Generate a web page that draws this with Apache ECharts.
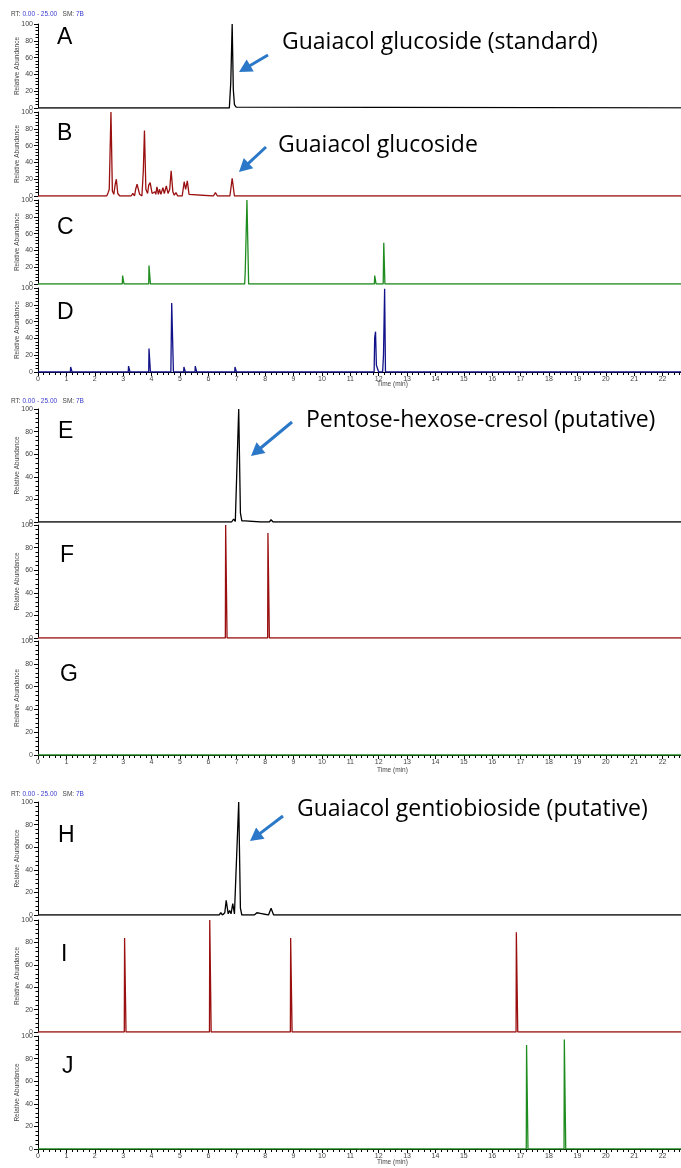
<!DOCTYPE html>
<html><head><meta charset="utf-8">
<script src="https://cdn.jsdelivr.net/npm/echarts@6/dist/echarts.min.js"></script>
<style>html,body{margin:0;padding:0;background:#fff}#c{width:681px;height:1168px}</style>
</head><body><div id="c"></div>
<script>
// ---- data (retention time in min, relative abundance %) ----
const xTicks = [0,1,2,3,4,5,6,7,8,9,10,11,12,13,14,15,16,17,18,19,20,21,22];
const yTicks = [0,20,40,60,80,100];
const panelLetters = ['A','B','C','D','E','F','G','H','I','J'];
const annotationTexts = ['Guaiacol glucoside (standard)','Guaiacol glucoside','Pentose-hexose-cresol (putative)','Guaiacol gentiobioside (putative)'];

const traceA = [[0,0],[6.74,0],[6.79,30],[6.84,100],[6.88,22],[6.92,4],[6.98,1],[7.04,0],[25,0]];
const traceB = [[0,0],[2.42,0],[2.47,4],[2.51,8],[2.57,100],[2.62,6],[2.67,2],[2.72,14],[2.76,20],[2.81,3],[2.88,0],[3.28,0],[3.34,3],[3.40,0],[3.44,8],[3.49,14],[3.53,13],[3.58,2],[3.66,0],[3.71,30],[3.75,78],[3.80,8],[3.86,3],[3.90,13],[3.95,16],[4.02,3],[4.08,1],[4.12,5],[4.15,2],[4.19,11],[4.24,2],[4.28,8],[4.33,2],[4.40,10],[4.45,3],[4.52,12],[4.58,3],[4.64,8],[4.69,30],[4.75,5],[4.80,1],[4.86,4],[4.92,0],[5.08,0],[5.15,17],[5.20,8],[5.26,18],[5.32,2],[5.38,0],[6.18,0],[6.25,4],[6.32,0],[6.76,0],[6.84,21],[6.92,0],[25,0]];
const traceC = [[0,0],[2.97,0],[2.98,10],[3.02,10],[3.03,0],[3.90,0],[3.91,22],[3.95,21],[3.96,0],[7.28,0],[7.30,15],[7.34,15],[7.36,100],[7.40,100],[7.42,0],[11.85,0],[11.86,10],[11.90,10],[11.91,0],[12.16,0],[12.18,49],[12.21,49],[12.22,0],[25,0]];
const traceD = [[0,0],[1.14,0],[1.15,6],[1.19,6],[1.20,0],[3.18,0],[3.19,7],[3.23,7],[3.24,0],[3.90,0],[3.91,28],[3.95,28],[3.96,0],[4.68,0],[4.71,82],[4.74,82],[4.77,0],[5.13,0],[5.14,6],[5.18,6],[5.19,0],[5.53,0],[5.54,7],[5.58,7],[5.59,0],[6.93,0],[6.94,6],[6.98,6],[6.99,0],[11.84,0],[11.86,41],[11.89,48],[11.92,8],[11.95,7],[11.98,7],[12.00,0],[12.14,0],[12.17,20],[12.21,99],[12.24,0],[25,0]];
const traceE = [[0,0],[6.58,0],[6.63,1],[6.68,0],[6.82,0],[6.89,2.5],[6.95,0.5],[7.01,1],[7.07,100],[7.13,8],[7.18,1],[7.25,0],[7.30,1],[7.36,0],[7.85,0],[7.90,0.5],[7.95,0],[8.15,0],[8.21,2],[8.28,0],[25,0]];
const traceF = [[0,0],[6.60,0],[6.61,100],[6.65,100],[6.66,0],[8.09,0],[8.10,93],[8.14,93],[8.15,0],[25,0]];
const traceG = [[0,0],[25,0]];
const traceH = [[0,0],[6.38,0],[6.44,2],[6.50,0],[6.58,2],[6.63,13],[6.70,1],[6.75,4],[6.80,1],[6.86,10],[6.92,1],[6.98,2],[7.07,100],[7.13,6],[7.18,0],[7.26,0],[7.30,1.5],[7.36,0],[7.62,0],[7.67,1],[7.71,2],[7.76,1],[7.83,1.5],[7.90,0],[8.12,0],[8.21,6],[8.30,0],[25,0]];
const traceI = [[0,0],[3.04,0],[3.05,84],[3.09,84],[3.10,0],[6.04,0],[6.05,100],[6.09,100],[6.10,0],[8.89,0],[8.90,84],[8.94,84],[8.95,0],[16.84,0],[16.85,89],[16.89,89],[16.90,0],[25,0]];
const traceJ = [[0,0],[17.20,0],[17.21,92],[17.25,92],[17.26,0],[18.53,0],[18.54,97],[18.58,97],[18.59,0],[25,0]];
const traces = [traceA,traceB,traceC,traceD,traceE,traceF,traceG,traceH,traceI,traceJ];

// ---- layout / style ----
const colors = ['#000000','#9a1010','#1f8c1f','#12128a','#000000','#9a1010','#1f8c1f','#000000','#9a1010','#1f8c1f'];
const grids = [[24,84],[112,84],[200,84],[288,84],[409,113],[525,113],[641,114],[802,113],[920,112],[1036,113]];
const bottomPanels = [3,6,9];
const headerY = [15,402,795];
const timeLabelY = [385,771,1163];
const letterPos = [[57,38],[57,134],[57,228],[57,313],[58,432],[60,556],[60,675],[58,836],[61,955],[62,1067]];
const annots = [
  {panel:0, x:282, y:47, tail:[268,55], tip:[239,72]},
  {panel:1, x:278, y:150, tail:[266,147], tip:[239,172]},
  {panel:4, x:306, y:425, tail:[292,422], tip:[251,456]},
  {panel:7, x:297, y:814, tail:[283,816], tip:[250,841]}
];
const XMAX = 22.65;
const tickFont = 'Liberation Sans, Arial, sans-serif';

const option = {animation:false, backgroundColor:'#fff', grid:[], xAxis:[], yAxis:[], series:[], graphic:[]};
traces.forEach((tr,i)=>{
  const [top,h] = grids[i];
  const isBottom = bottomPanels.includes(i);
  option.grid.push({left:38, right:0, top:top, height:h, containLabel:false});
  option.xAxis.push({
    type:'value', gridIndex:i, min:0, max:XMAX, interval:1,
    axisLine:{show:isBottom, lineStyle:{color:'#000', width:1}},
    axisTick:{show:isBottom, inside:false, length:4, lineStyle:{color:'#000'}},
    minorTick:{show:isBottom, splitNumber:5, length:3, lineStyle:{color:'#000'}},
    axisLabel:{show:isBottom, fontSize:7, color:'#444', fontFamily:tickFont, margin:4, showMaxLabel:false,
      formatter:v=>xTicks.includes(v)?String(v):''},
    splitLine:{show:false}
  });
  option.yAxis.push({
    type:'value', gridIndex:i, min:0, max:100, interval:20,
    name:'Relative Abundance', nameLocation:'middle', nameRotate:90, nameGap:17, nameMoveOverlap:false,
    nameTextStyle:{fontSize:6.5, color:'#444', fontFamily:tickFont},
    axisLine:{show:true, lineStyle:{color:'#000', width:1}},
    axisTick:{show:true, length:4, lineStyle:{color:'#000'}},
    minorTick:{show:true, splitNumber:5, length:2.5, lineStyle:{color:'#000'}},
    axisLabel:{fontSize:7, color:'#444', fontFamily:tickFont, margin:5,
      formatter:v=>yTicks.includes(v)?String(v):''},
    splitLine:{show:false}
  });
  option.series.push({
    type:'line', xAxisIndex:i, yAxisIndex:i, data:tr, showSymbol:false, symbol:'none',
    clip:true, lineStyle:{color:colors[i], width:1.3}, silent:true
  });
  option.graphic.push({type:'text', left:letterPos[i][0], top:letterPos[i][1]-12,
    style:{text:panelLetters[i], font:'23px "Liberation Sans", Arial, sans-serif', fill:'#000'}});
});
headerY.forEach(y=>{
  option.graphic.push({type:'text', left:11, top:y-4,
    style:{text:'{k|RT: }{v|0.00 - 25.00}{k|   SM: }{v|7B}',
      rich:{k:{fontSize:6.5,fill:'#444',fontFamily:tickFont},v:{fontSize:6.5,fill:'#3a3ad0',fontFamily:tickFont}}}});
});
timeLabelY.forEach(y=>{
  option.graphic.push({type:'text', left:377, top:y-4,
    style:{text:'Time (min)', fontSize:6.5, fill:'#444', fontFamily:tickFont}});
});
annots.forEach((a,k)=>{
  option.graphic.push({type:'text', left:a.x, top:a.y-16,
    style:{text:annotationTexts[k], font:'23px "Open Sans", sans-serif', fill:'#000'}});
  const [tx,ty]=a.tail, [hx,hy]=a.tip;
  const dx=hx-tx, dy=hy-ty, L=Math.hypot(dx,dy), ux=dx/L, uy=dy/L;
  const hl=13, hw=7;
  const bx=hx-ux*hl, by=hy-uy*hl;
  option.graphic.push({type:'line', shape:{x1:tx,y1:ty,x2:bx+ux*2,y2:by+uy*2}, style:{stroke:'#2b78c8', lineWidth:3}});
  option.graphic.push({type:'polygon', shape:{points:[[hx,hy],[bx-uy*hw,by+ux*hw],[bx+uy*hw,by-ux*hw]]}, style:{fill:'#2b78c8'}});
});

const chart = echarts.init(document.getElementById('c'), null, {renderer:'canvas'});
chart.setOption(option);
</script></body></html>
